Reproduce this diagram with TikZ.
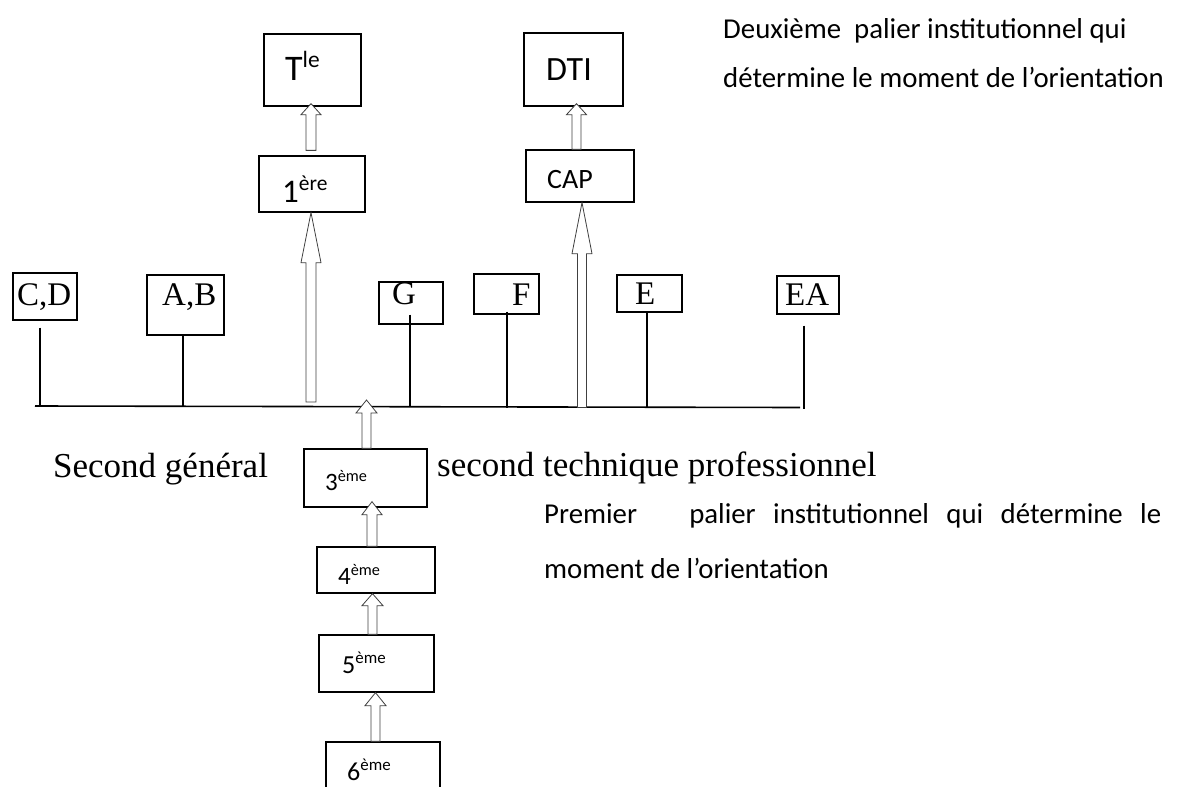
\documentclass[tikz,border=0pt]{standalone}
\usepackage{fontspec}
\setmainfont{Liberation Serif}
\newfontfamily\calfont{Carlito}
\usetikzlibrary{calc}
\newcommand{\expo}[1]{\raisebox{0.36em}{\scalebox{0.65}{#1}}}
% hollow upward arrow: #1 tail, #2 tip, #3 half shaft, #4 half head, #5 head length
\newcommand{\hollowup}[5]{%
  \path[harrow] let \p1=(#1), \p2=(#2) in
    (\x2,\y2) -- (\x2+#4,\y2-#5) -- (\x2+#3,\y2-#5) -- (\x2+#3,\y1)
    -- (\x2-#3,\y1) -- (\x2-#3,\y2-#5) -- (\x2-#4,\y2-#5) -- cycle;}
\begin{document}
\begin{tikzpicture}[x=1pt,y=-1pt,
  box/.style={draw, line width=1.3pt, inner sep=0pt},
  stem/.style={line width=1.3pt},
  bus/.style={line width=1.6pt},
  harrow/.style={draw=black!75, line width=0.8pt, fill=white},
  tim/.style={inner sep=0pt, anchor=base west, font=\fontsize{33}{33}\selectfont},
  timbig/.style={inner sep=0pt, anchor=base west, font=\fontsize{35}{35}\selectfont},
  cal/.style={inner sep=0pt, anchor=base west, font=\calfont\fontsize{#1}{#1}\selectfont},
  para/.style={inner sep=0pt, anchor=base west, font=\calfont\fontsize{#1}{#1}\selectfont}]
\useasboundingbox (0,0) rectangle (1178,787);

% bus line
\coordinate (busL) at (35,406);
\coordinate (busR) at (800,407.5);

% boxes
\node[box, minimum width=97pt,  minimum height=72pt] (tle)    at (312.5,70) {};
\node[box, minimum width=106pt, minimum height=56pt] (prem)   at (312,184) {};
\node[box, minimum width=99pt,  minimum height=73pt] (dti)    at (573.5,69.5) {};
\node[box, minimum width=108pt, minimum height=52pt] (cap)    at (580,176) {};
\node[box, minimum width=64pt,  minimum height=47pt] (cd)     at (45,296.5) {};
\node[box, minimum width=77pt,  minimum height=60pt] (ab)     at (185.5,305) {};
\node[box, minimum width=64pt,  minimum height=42pt] (g)      at (411,303) {};
\node[box, minimum width=65pt,  minimum height=40pt] (f)      at (506.5,294) {};
\node[box, minimum width=65pt,  minimum height=37pt] (e)      at (649.5,293.5) {};
\node[box, minimum width=62pt,  minimum height=38pt] (ea)     at (808,295) {};
\node[box, minimum width=123pt, minimum height=58pt] (trois)  at (365.5,478) {};
\node[box, minimum width=118pt, minimum height=46pt] (quatre) at (376,570) {};
\node[box, minimum width=115pt, minimum height=57pt] (cinq)   at (376.5,663.5) {};
\node[box, minimum width=114pt, minimum height=60pt] (six)    at (383,772) {};

% bus and stems
\draw[bus] (busL) -- (busR);
\draw[stem] let \p1=($(cd.south)+(-5,7)$),   \p2=(busL) in (\p1) -- (\x1,\y2);
\draw[stem] let \p1=($(ab.south)+(-2.5,0)$), \p2=(busL) in (\p1) -- (\x1,\y2);
\draw[stem] let \p1=($(g.south)+(-1,-10)$),  \p2=(busL) in (\p1) -- (\x1,\y2);
\draw[stem] let \p1=($(f.south)+(0.5,-3)$),  \p2=(busR) in (\p1) -- (\x1,\y2);
\draw[stem] let \p1=($(e.south)+(-2.5,0)$),  \p2=(busR) in (\p1) -- (\x1,\y2);
\draw[stem] let \p1=($(ea.south)+(-4,11)$),  \p2=(busR) in (\p1) -- (\x1,\y2-1pt);

% hollow arrows
\hollowup{$(prem.north)+(-1,-5)$}{$(tle.south)+(-1.5,-3)$}{5pt}{10pt}{11pt}
\hollowup{$(prem.south |- busL)+(-1,-4)$}{$(prem.south)+(-1,0)$}{5pt}{10pt}{50pt}
\hollowup{$(cap.north)+(-3.5,0)$}{$(dti.south)+(3,-3)$}{4.5pt}{10pt}{11pt}
\hollowup{$(cap.south |- busR)+(2,0)$}{$(cap.south)+(2,0)$}{4.5pt}{10pt}{51pt}
\hollowup{$(trois.north)+(1,0)$}{$(trois.north |- busL)+(1,-6)$}{4.5pt}{10.5pt}{13pt}
\hollowup{$(quatre.north)+(-4,0)$}{$(trois.south)+(6.5,-6)$}{5pt}{10pt}{13pt}
\hollowup{$(cinq.north)+(-4,0)$}{$(quatre.south)+(-3.5,0)$}{4.5pt}{10.5pt}{12pt}
\hollowup{$(six.north)+(-7.5,0)$}{$(cinq.south)+(-1,0)$}{4.5pt}{10.5pt}{13pt}

% box labels
\node[cal=36] (tleT)  at (285,80)  {T\expo{le}};
\node[cal=33] (premT) at (282,202) {1\expo{ère}};
\node[cal=34] (dtiT)  at (546,80)  {DTI};
\node[cal=28] (capT)  at (547,188) {CAP};
\node[tim] (cdT)  at (17,305)  {C,D};
\node[tim] (abT)  at (162,305) {A,B};
\node[tim] (gT)   at (392,304) {G};
\node[tim] (fT)   at (512,305) {F};
\node[tim] (eT)   at (635,304) {E};
\node[tim] (eaT)  at (785,305) {EA};
\node[cal=25] (troisT)  at (325,490) {3\expo{ème}};
\node[cal=25] (quatreT) at (338,584) {4\expo{ème}};
\node[cal=26] (cinqT)   at (342,673) {5\expo{ème}};
\node[cal=26] (sixT)    at (347,780) {6\expo{ème}};

% free texts
\node[para=28.8] (deux1) at (723,38) {Deuxième\ \ palier institutionnel qui};
\node[para=28.8] (deux2) at (723,87) {détermine le moment de l’orientation};
\node[timbig] (sgen) at (53,477) {Second général};
\node[timbig] (stech) at (437,476) {second technique professionnel};
\node[para=28.8] (prem1) at (544,523) {\makebox[617pt][s]{Premier\ \ \ palier institutionnel qui détermine le}};
\node[para=28.8] (prem2) at (544,578) {moment de l’orientation};
\end{tikzpicture}
\end{document}
